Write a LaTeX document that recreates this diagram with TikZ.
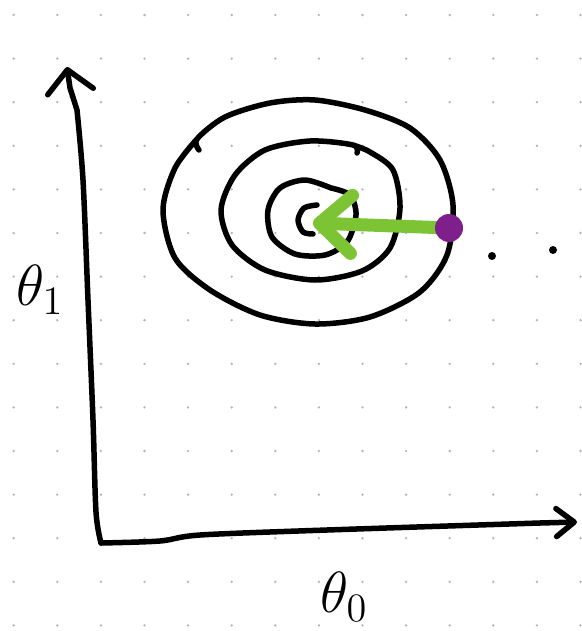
\documentclass[tikz,border=0pt]{standalone}
\usepackage{xcolor}
\usepackage{tikz}
\usetikzlibrary{arrows.meta,positioning,calc}
\definecolor{leafgreen}{HTML}{7CC433}
\definecolor{plum}{HTML}{7E1F8C}
\definecolor{dotgray}{HTML}{B4B4B4}

\begin{document}
\begin{tikzpicture}[
  x=1pt, y=-1pt,
  pen/.style={line width=5.5pt, line cap=round, line join=round},
  stroke/.style={line width=13pt, line cap=round, line join=round, leafgreen},
  blob/.style={circle, fill=plum, inner sep=0pt, minimum size=28pt},
  speck/.style={circle, fill=black, inner sep=0pt, minimum size=8pt},
  lbl/.style={font=\huge, inner sep=0pt, scale=2.8, transform shape}
]
\useasboundingbox (0,0) rectangle (581,631);
\fill[white] (0,0) rectangle (581,631);

% dotted paper
\foreach \i in {0,...,13}
  \foreach \j in {0,...,14}
    \fill[dotgray] (13.7+43.6*\i, 15+43.6*\j) circle (1.3pt);

% axes
\coordinate (origin) at (101,543);
\coordinate (ytip) at (67,67);
\coordinate (xtip) at (577,522);
\draw[pen, -{Straight Barb[length=22pt, width=46pt, round]}]
  plot[smooth] coordinates {(origin) (96,512) (93,420) (88,300) (83,180) (77,110)}
  -- (70,88) -- (ytip);
\draw[pen, -{Straight Barb[length=18pt, width=28pt, round]}]
  plot[smooth] coordinates {(origin) (160,541) (200,535) (327,530) (540,523)} -- (xtip);

\node[lbl] (thetaone) at (40,290) {$\theta_1$};
\node[lbl] (thetazero) at (344,597) {$\theta_0$};

% contours
\draw[pen] plot[smooth] coordinates {(199,150) (197,139) (225,117) (270,103) (315,100)
  (365,110) (410,128) (440,160) (453,205) (447,255) (420,292) (370,317) (315,324)
  (260,315) (210,290) (175,258) (163,210) (175,168) (197,139)};
\draw[pen] plot[smooth] coordinates {(357,153) (353,145) (310,141) (265,150) (235,175)
  (221,210) (232,245) (265,270) (315,280) (362,271) (390,248) (400,208) (393,170)
  (370,152) (353,145)};
\draw[pen] plot[smooth] coordinates {(331,188) (305,180) (280,188) (268,210) (272,237)
  (295,254) (325,255) (347,242) (356,215) (350,195) (331,188)};
\draw[pen] plot[smooth] coordinates {(317,205) (304,208) (298,220) (303,232) (313,234)};

% step
\coordinate (start) at (449,228);
\coordinate (minimum) at (313,223);
\draw[stroke, -{Straight Barb[length=32pt, width=58pt, round]}] (start) -- (minimum);
\node[blob] (point) at (start) {};

\node[speck] (nextA) at (492,256) {};
\node[speck] (nextB) at (553,250) {};
\end{tikzpicture}
\end{document}
